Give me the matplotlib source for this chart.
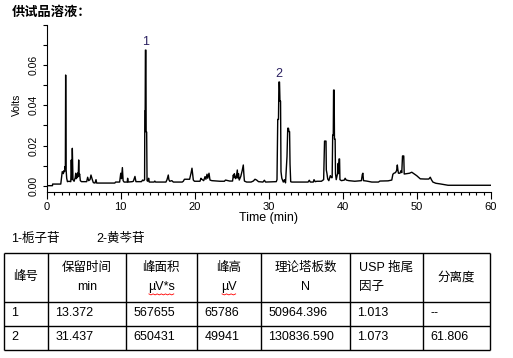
import matplotlib
matplotlib.use("Agg")
import matplotlib.pyplot as plt
from matplotlib.ticker import MultipleLocator, FormatStrFormatter

plt.rcParams['font.family'] = ['Liberation Sans', 'Noto Sans CJK SC']

# 色谱图数据 (时间 min, 信号 Volts)
time_min = [0.00, 0.78, 0.80, 1.90, 2.00, 2.10, 2.25, 2.33, 2.42, 2.47, 2.52, 2.56, 2.62, 2.70, 2.80,
            3.00, 3.25, 3.32, 3.40, 3.46, 3.55, 3.70, 3.85, 3.92, 4.00, 4.05, 4.12, 4.18, 4.26, 4.32,
            4.38, 4.45, 4.54, 4.70, 5.40, 5.53, 5.67, 5.85, 5.98, 6.16, 6.30, 6.52, 6.66, 6.75, 9.20,
            9.30, 9.85, 10.00, 10.10, 10.22, 10.32, 10.45, 10.88, 10.93, 11.00, 11.55, 11.70, 11.92, 12.05,
            12.80, 12.95, 13.10, 13.22, 13.25, 13.30, 13.33, 13.40, 13.43, 13.50, 13.55, 13.65, 13.77,
            13.85, 14.50, 14.60, 14.70, 16.10, 16.25, 16.42, 16.50, 16.62, 16.90, 17.10, 18.30, 18.45,
            18.60, 19.30, 19.49, 19.62, 19.70, 19.80, 19.95, 20.70, 20.83, 20.95, 21.20, 21.38, 21.50,
            21.65, 21.75, 21.92, 22.05, 22.30, 23.40, 24.00, 24.15, 24.70, 25.10, 25.20, 25.27, 25.34,
            25.50, 25.60, 25.74, 25.82, 25.90, 26.00, 26.20, 26.40, 26.55, 26.62, 26.70, 27.00, 27.60,
            27.90, 28.13, 28.35, 28.60, 29.20, 29.40, 29.55, 31.00, 31.10, 31.20, 31.30, 31.36, 31.44,
            31.50, 31.58, 31.64, 31.75, 31.95, 32.10, 32.25, 32.45, 32.55, 32.65, 32.72, 32.80, 32.86,
            32.95, 33.10, 35.30, 35.46, 35.60, 36.00, 36.10, 36.25, 36.50, 37.10, 37.40, 37.52, 37.72,
            37.76, 37.85, 37.95, 38.10, 38.30, 38.45, 38.55, 38.62, 38.70, 38.74, 38.82, 38.86, 38.95,
            39.00, 39.10, 39.28, 39.36, 39.42, 39.48, 39.55, 39.60, 39.80, 40.20, 40.30, 40.45, 40.80,
            41.60, 42.50, 42.62, 42.70, 42.78, 43.20, 43.90, 44.80, 45.00, 46.10, 46.60, 46.75, 46.90,
            47.10, 47.25, 47.35, 47.42, 47.50, 47.70, 47.85, 47.95, 48.05, 48.22, 48.28, 48.60, 49.00,
            49.30, 49.50, 49.96, 50.20, 50.45, 51.10, 51.60, 51.80, 51.95, 52.15, 52.55, 53.10, 54.20,
            60.00]
volts = [0.0000, 0.0000, 0.0008, 0.0008, 0.0037, 0.0070, 0.0060, 0.0075, 0.0070, 0.0095, 0.0085, 0.0551, 0.0080, 0.0037, 0.0020,
         0.0022, 0.0020, 0.0128, 0.0030, 0.0186, 0.0030, 0.0022, 0.0040, 0.0062, 0.0035, 0.0048, 0.0040, 0.0063, 0.0045, 0.0128,
         0.0050, 0.0058, 0.0025, 0.0020, 0.0020, 0.0042, 0.0025, 0.0030, 0.0053, 0.0030, 0.0015, 0.0013, 0.0030, 0.0013, 0.0013,
         0.0018, 0.0018, 0.0062, 0.0035, 0.0090, 0.0025, 0.0018, 0.0018, 0.0037, 0.0018, 0.0020, 0.0022, 0.0046, 0.0020,
         0.0020, 0.0028, 0.0025, 0.0030, 0.0372, 0.0372, 0.0675, 0.0675, 0.0267, 0.0267, 0.0025, 0.0022, 0.0037,
         0.0018, 0.0018, 0.0023, 0.0018, 0.0018, 0.0030, 0.0053, 0.0030, 0.0022, 0.0025, 0.0018, 0.0018, 0.0022,
         0.0032, 0.0032, 0.0062, 0.0087, 0.0062, 0.0028, 0.0022, 0.0022, 0.0037, 0.0032, 0.0025, 0.0045, 0.0032,
         0.0057, 0.0037, 0.0062, 0.0028, 0.0025, 0.0022, 0.0022, 0.0028, 0.0023, 0.0023, 0.0053, 0.0040, 0.0060,
         0.0035, 0.0040, 0.0078, 0.0038, 0.0060, 0.0028, 0.0045, 0.0075, 0.0103, 0.0060, 0.0023, 0.0018, 0.0018,
         0.0023, 0.0032, 0.0028, 0.0020, 0.0018, 0.0027, 0.0018, 0.0020, 0.0030, 0.0330, 0.0330, 0.0516, 0.0516,
         0.0421, 0.0421, 0.0070, 0.0037, 0.0018, 0.0030, 0.0014, 0.0144, 0.0286, 0.0286, 0.0269, 0.0269, 0.0108,
         0.0020, 0.0018, 0.0018, 0.0027, 0.0018, 0.0018, 0.0030, 0.0020, 0.0022, 0.0022, 0.0030, 0.0222, 0.0222,
         0.0078, 0.0060, 0.0033, 0.0025, 0.0050, 0.0040, 0.0040, 0.0252, 0.0252, 0.0476, 0.0476, 0.0232, 0.0232,
         0.0060, 0.0030, 0.0060, 0.0111, 0.0060, 0.0133, 0.0133, 0.0030, 0.0025, 0.0028, 0.0037, 0.0028, 0.0025,
         0.0022, 0.0025, 0.0056, 0.0062, 0.0025, 0.0023, 0.0018, 0.0018, 0.0023, 0.0024, 0.0028, 0.0057, 0.0062,
         0.0065, 0.0075, 0.0103, 0.0080, 0.0062, 0.0062, 0.0075, 0.0065, 0.0148, 0.0148, 0.0058, 0.0060, 0.0062,
         0.0067, 0.0062, 0.0050, 0.0042, 0.0034, 0.0033, 0.0033, 0.0042, 0.0030, 0.0018, 0.0012, 0.0009, 0.0002,
         0.0002]

# 峰标记
peak_labels = ['1', '2']
peak_times = [13.37, 31.40]
peak_heights = [0.0675, 0.0516]

x_ticks = [0, 10, 20, 30, 40, 50, 60]
y_ticks = [0.00, 0.02, 0.04, 0.06]

compound_names = ['1-栀子苷', '2-黄芩苷']

# 系统适用性表
table_header = ['峰号', '保留时间\nmin', '峰面积\nµV*s', '峰高\nµV', '理论塔板数\nN', 'USP 拖尾\n因子', '分离度']
table_rows = [
    ['1', '13.372', '567655', '65786', '50964.396', '1.013', '--'],
    ['2', '31.437', '650431', '49941', '130836.590', '1.073', '61.806'],
]

W, H = 513, 358
fig = plt.figure(figsize=(W / 100, H / 100), dpi=100)

# 色谱图
ax = fig.add_axes([46.7 / W, 1 - 192.3 / H, 444.3 / W, 167.3 / H])
ax.plot(time_min, volts, color='black', lw=1.0)
ax.set_xlim(0, 60)
ax.set_ylim(-0.0033, 0.080)
ax.spines['top'].set_visible(False)
ax.spines['right'].set_visible(False)
for s in ['left', 'bottom']:
    ax.spines[s].set_linewidth(0.8)

ax.set_xticks(x_ticks)
ax.xaxis.set_minor_locator(MultipleLocator(1))
ax.set_yticks(y_ticks)
ax.yaxis.set_minor_locator(MultipleLocator(0.01))
ax.yaxis.set_major_formatter(FormatStrFormatter('%.2f'))
ax.tick_params(axis='x', which='major', length=5, width=0.8, labelsize=8, pad=2)
ax.tick_params(axis='x', which='minor', length=2.5, width=0.8)
ax.tick_params(axis='y', which='both', length=3, width=0.8, labelsize=7.5, pad=3)
for lab in ax.get_yticklabels():
    lab.set_rotation(90)
    lab.set_va('center')

ax.set_xlabel('Time (min)', fontsize=9)
ax.xaxis.set_label_coords(0.5, -0.12)
ax.set_ylabel('Volts', fontsize=7.5)
ax.yaxis.set_label_coords(-0.056, 0.52)

for lab, t, h in zip(peak_labels, peak_times, peak_heights):
    ax.annotate(lab, (t, h), xytext=(0, 1.5), textcoords='offset points',
                ha='center', va='bottom', fontsize=9, color='#2a2060')

# 标题、图注和表格（像素坐标）
ov = fig.add_axes([0, 0, 1, 1])
ov.set_xlim(0, W)
ov.set_ylim(H, 0)
ov.axis('off')

ov.text(12, 13, '供试品溶液：', fontsize=9.5, fontweight='heavy', ha='left', va='center')
ov.text(11.5, 239, compound_names[0], fontsize=9, ha='left', va='center')
ov.text(96.5, 239, compound_names[1], fontsize=9, ha='left', va='center')

col_edges = [4, 47.7, 126, 196.7, 261, 350, 422.7, 490]
row_edges = [252.7, 301.7, 325.7, 350]
ov.hlines(row_edges, col_edges[0], col_edges[-1], color='black', lw=1.0)
ov.vlines(col_edges, row_edges[0], row_edges[-1], color='black', lw=1.0)

head_mid = (row_edges[0] + row_edges[1]) / 2
for i, txt in enumerate(table_header):
    lines = txt.split('\n')
    x0, x1 = col_edges[i], col_edges[i + 1]
    if txt.startswith('USP'):
        xs, ha = x0 + 9, 'left'
    else:
        xs, ha = (x0 + x1) / 2, 'center'
    if len(lines) == 1:
        ov.text(xs, head_mid, lines[0], fontsize=9, ha=ha, va='center')
    else:
        ov.text(xs, head_mid - 9.7, lines[0], fontsize=9, ha=ha, va='center')
        t2 = ov.text(xs, head_mid + 9.7, lines[1], fontsize=9, ha=ha, va='center')
        # 单位下面的红色拼写波浪线
        if 'µ' in lines[1]:
            fig.canvas.draw()
            bb = t2.get_window_extent()
            xa, xb = bb.x0 + 1, bb.x1 - 1
            yb = H - bb.y0 + 1
            n = int((xb - xa) / 2)
            zx = [xa + k * (xb - xa) / n for k in range(n + 1)]
            zy = [yb + (1 if k % 2 else 0) for k in range(n + 1)]
            ov.plot(zx, zy, color='red', lw=0.6)

for r, row in enumerate(table_rows):
    ymid = (row_edges[r + 1] + row_edges[r + 2]) / 2 - 1
    for i, txt in enumerate(row):
        ov.text(col_edges[i] + 7.5, ymid, txt, fontsize=9, ha='left', va='center')

fig.savefig('out.png', dpi=100)
